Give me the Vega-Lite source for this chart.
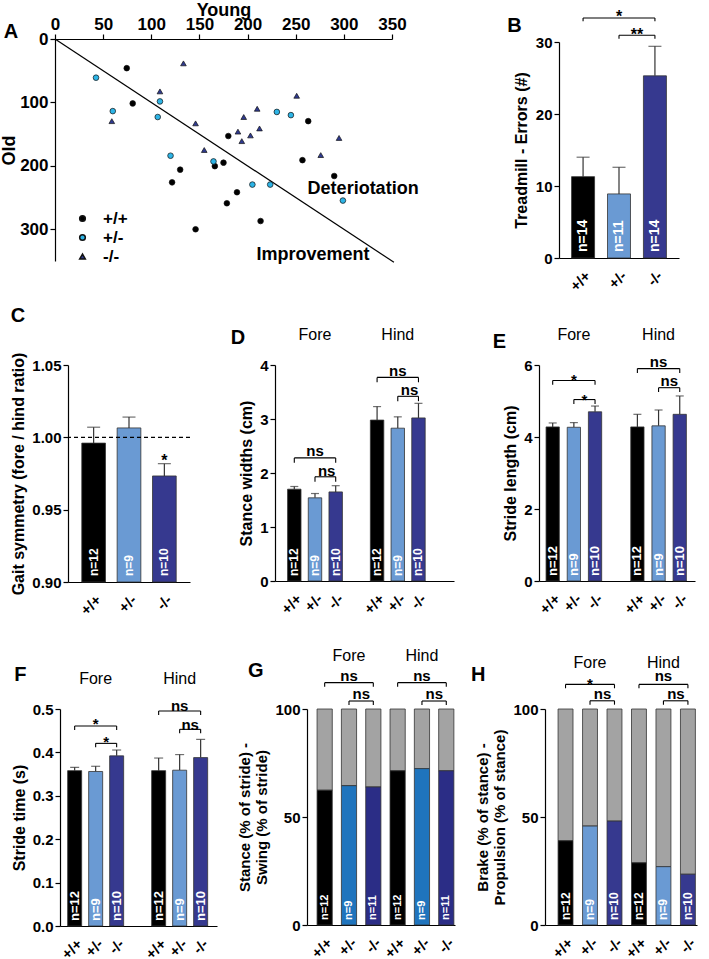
{
"$schema": "https://vega.github.io/schema/vega-lite/v6.json",
"background": "white",
"padding": {"left": 0, "top": 1, "right": 0, "bottom": 0},
"config": {
 "font": "Liberation Sans",
 "view": {"stroke": null},
 "axis": {"labelFont": "Liberation Sans", "titleFont": "Liberation Sans", "labelFontWeight": "bold", "titleFontWeight": "bold", "labelColor": "#000", "titleColor": "#000", "domainColor": "#000", "tickColor": "#000", "domainWidth": 1.2, "tickWidth": 1.2, "grid": false, "labelFontSize": 15, "titleFontSize": 16, "labelPadding": 2, "tickSize": 5, "titlePadding": 5},
 "axisBand": {"labelAngle": -45, "labelAlign": "right", "labelBaseline": "top", "ticks": false, "labelPadding": 10, "labelFontSize": 15, "labelOverlap": false},
 "title": {"font": "Liberation Sans", "fontSize": 20, "fontWeight": "bold", "color": "#000", "anchor": "start", "frame": "bounds", "offset": 0, "baseline": "alphabetic"},
 "text": {"font": "Liberation Sans"}
},
"spacing": 12,
"resolve": {"scale": {"color": "independent", "shape": "independent"}, "legend": {"color": "independent", "shape": "independent"}},
"vconcat": [
 {"hconcat": [
  {
   "width": 337, "height": 222,
   "title": {"text": "A", "dx": 3, "dy": 45},
   "layer": [
    {"data": {"values": [{"young": 0, "old": 0}, {"young": 352, "old": 352}]},
     "mark": {"type": "line", "color": "#000", "strokeWidth": 1.2, "clip": false},
     "encoding": {
      "x": {"field": "young", "type": "quantitative", "scale": {"domain": [0, 350], "nice": false}, "axis": {"orient": "top", "values": [0, 50, 100, 150, 200, 250, 300, 350], "title": "Young", "labelAngle": 0, "labelAlign": "center", "labelFlush": false, "labelOverlap": false, "labelFontSize": 17, "titleFontSize": 18, "titlePadding": -4, "labelPadding": 1, "tickSize": 5}},
      "y": {"field": "old", "type": "quantitative", "scale": {"domain": [0, 350], "nice": false, "reverse": true}, "axis": {"values": [0, 50, 100, 150, 200, 250, 300, 350], "title": "Old", "labelFlush": false, "labelOverlap": false, "labelFontSize": 17, "titleFontSize": 18, "titlePadding": 1}}
     }},
    {"data": {"values": [
      {"g": "+/+", "young": 74.5, "old": 46}, {"g": "+/+", "young": 80.7, "old": 101.6}, {"g": "+/+", "young": 180, "old": 153}, {"g": "+/+", "young": 175, "old": 195}, {"g": "+/+", "young": 166, "old": 200.5}, {"g": "+/+", "young": 130, "old": 206}, {"g": "+/+", "young": 121.6, "old": 226}, {"g": "+/+", "young": 189, "old": 241.6}, {"g": "+/+", "young": 178.5, "old": 259}, {"g": "+/+", "young": 146, "old": 300}, {"g": "+/+", "young": 213.5, "old": 287}, {"g": "+/+", "young": 263, "old": 129.5}, {"g": "+/+", "young": 257, "old": 191}, {"g": "+/+", "young": 290, "old": 216},
      {"g": "+/-", "young": 42.6, "old": 61}, {"g": "+/-", "young": 60, "old": 113.7}, {"g": "+/-", "young": 109, "old": 98.4}, {"g": "+/-", "young": 106.7, "old": 123}, {"g": "+/-", "young": 120, "old": 184}, {"g": "+/-", "young": 164.6, "old": 193}, {"g": "+/-", "young": 205, "old": 229.5}, {"g": "+/-", "young": 223.5, "old": 229.5}, {"g": "+/-", "young": 230.4, "old": 115}, {"g": "+/-", "young": 245, "old": 120}, {"g": "+/-", "young": 299, "old": 254.7},
      {"g": "-/-", "young": 133.4, "old": 38.4}, {"g": "-/-", "young": 109, "old": 82.6}, {"g": "-/-", "young": 59, "old": 129.5}, {"g": "-/-", "young": 146, "old": 133}, {"g": "-/-", "young": 155, "old": 175}, {"g": "-/-", "young": 190, "old": 146}, {"g": "-/-", "young": 194, "old": 161}, {"g": "-/-", "young": 196, "old": 123}, {"g": "-/-", "young": 203, "old": 152}, {"g": "-/-", "young": 210, "old": 110}, {"g": "-/-", "young": 212.4, "old": 141}, {"g": "-/-", "young": 251, "old": 89.5}, {"g": "-/-", "young": 276, "old": 183}, {"g": "-/-", "young": 295, "old": 156}
     ]},
     "mark": {"type": "point", "filled": true, "opacity": 1, "stroke": "#111", "strokeWidth": 0.7, "size": 32},
     "encoding": {
      "x": {"field": "young", "type": "quantitative"},
      "y": {"field": "old", "type": "quantitative"},
      "color": {"field": "g", "type": "nominal", "scale": {"domain": ["+/+", "+/-", "-/-"], "range": ["#000000", "#2DB4E6", "#2F3A8F"]}, "legend": {"title": null, "orient": "none", "legendX": 19, "legendY": 171, "labelFontSize": 17, "labelFontWeight": "bold", "labelFont": "Liberation Sans", "labelColor": "#000", "symbolSize": 32, "rowPadding": 1, "labelOffset": 12}},
      "shape": {"field": "g", "type": "nominal", "scale": {"domain": ["+/+", "+/-", "-/-"], "range": ["circle", "circle", "triangle-up"]}}
     }},
    {"data": {"values": [{"young": 320, "old": 237, "label": "Deteriotation"}, {"young": 268, "old": 341, "label": "Improvement"}]},
     "mark": {"type": "text", "fontWeight": "bold", "fontSize": 18, "align": "center", "baseline": "middle"},
     "encoding": {"x": {"field": "young", "type": "quantitative"}, "y": {"field": "old", "type": "quantitative"}, "text": {"field": "label"}}}
   ]
  },
  {
   "width": 120, "height": 216,
   "title": {"text": "B", "dx": -6, "dy": 31},
   "layer": [
    {"data": {"values": [
      {"g": "+/+", "mean": 11.3, "up": 14.0, "n": "n=14"},
      {"g": "+/-", "mean": 8.9, "up": 12.6, "n": "n=11"},
      {"g": "-/-", "mean": 25.3, "up": 29.4, "n": "n=14"}]},
     "layer": [
      {"mark": {"type": "rule", "color": "#333", "strokeWidth": 1.2},
       "encoding": {
        "x": {"field": "g", "type": "nominal", "scale": {"domain": ["+/+", "+/-", "-/-"], "paddingInner": 0.36, "paddingOuter": 0.35}, "axis": {"title": null}},
        "y": {"field": "mean", "type": "quantitative", "scale": {"domain": [0, 30], "nice": false}, "axis": {"values": [0, 10, 20, 30], "title": "Treadmill - Errors (#)", "titlePadding": 6}},
        "y2": {"field": "up"}}},
      {"mark": {"type": "bar", "stroke": "#333", "strokeWidth": 0.8},
       "encoding": {"x": {"field": "g", "type": "nominal"}, "y": {"field": "mean", "type": "quantitative"}, "y2": {"datum": 0},
        "color": {"field": "g", "type": "nominal", "scale": {"domain": ["+/+", "+/-", "-/-"], "range": ["#000000", "#6A9AD3", "#36398F"]}, "legend": null}}},
      {"mark": {"type": "tick", "color": "#333", "thickness": 1.2, "size": 13},
       "encoding": {"x": {"field": "g", "type": "nominal"}, "y": {"field": "up", "type": "quantitative"}}},
      {"mark": {"type": "text", "angle": 270, "align": "left", "baseline": "middle", "dx": 6, "color": "#fff", "fontWeight": "bold", "fontSize": 14},
       "encoding": {"x": {"field": "g", "type": "nominal"}, "y": {"datum": 0}, "text": {"field": "n"}}}
     ]},
    {"data": {"values": [
      {"x1": "+/+", "x2": "-/-", "xm": "+/-", "y": 33.33, "yb": 32.87, "ty": 33.54, "label": "*", "kind": "wide"},
      {"x1": "+/-", "x2": "-/-", "xm": "-/-", "y": 30.93, "yb": 30.46, "ty": 31.04, "label": "**", "kind": "narrow"}]},
     "layer": [
      {"mark": {"type": "rule", "color": "#000", "strokeWidth": 1.1}, "encoding": {"x": {"field": "x1", "type": "nominal"}, "x2": {"field": "x2"}, "y": {"field": "y", "type": "quantitative"}}},
      {"mark": {"type": "rule", "color": "#000", "strokeWidth": 1.1}, "encoding": {"x": {"field": "x1", "type": "nominal"}, "y": {"field": "y", "type": "quantitative"}, "y2": {"field": "yb"}}},
      {"mark": {"type": "rule", "color": "#000", "strokeWidth": 1.1}, "encoding": {"x": {"field": "x2", "type": "nominal"}, "y": {"field": "y", "type": "quantitative"}, "y2": {"field": "yb"}}},
      {"transform": [{"filter": "datum.kind === 'wide'"}], "mark": {"type": "text", "fontWeight": "bold", "fontSize": 16, "baseline": "middle"}, "encoding": {"x": {"field": "xm", "type": "nominal"}, "y": {"field": "ty", "type": "quantitative"}, "text": {"field": "label"}}},
      {"transform": [{"filter": "datum.kind === 'narrow'"}], "mark": {"type": "text", "fontWeight": "bold", "fontSize": 16, "baseline": "middle", "dx": -18}, "encoding": {"x": {"field": "x2", "type": "nominal"}, "y": {"field": "ty", "type": "quantitative"}, "text": {"field": "label"}}}
     ]}
   ]
  }
 ], "spacing": 167, "bounds": "flush", "center": true,
 "resolve": {"scale": {"color": "independent", "shape": "independent"}, "legend": {"color": "independent", "shape": "independent"}}},
 {"vconcat": [
  {"hconcat": [
   {"width": 13, "height": 1, "data": {"values": [{"s": 1}]}, "mark": {"type": "point", "opacity": 0, "size": 1}},
   {"hconcat": [
   {
    "width": 122, "height": 217,
    "title": {"text": "C", "dx": 0, "dy": -22},
    "layer": [
     {"data": {"values": [
       {"g": "+/+", "mean": 0.996, "up": 1.007, "n": "n=12"},
       {"g": "+/-", "mean": 1.0065, "up": 1.014, "n": "n=9"},
       {"g": "-/-", "mean": 0.9733, "up": 0.9818, "n": "n=10"}]},
      "layer": [
       {"mark": {"type": "rule", "color": "#333", "strokeWidth": 1.2},
        "encoding": {
         "x": {"field": "g", "type": "nominal", "scale": {"domain": ["+/+", "+/-", "-/-"], "paddingInner": 0.33, "paddingOuter": 0.39}, "axis": {"title": null}},
         "y": {"field": "mean", "type": "quantitative", "scale": {"domain": [0.9, 1.05], "nice": false, "zero": false}, "axis": {"values": [0.9, 0.95, 1.0, 1.05], "format": ".2f", "title": "Gait symmetry (fore / hind ratio)"}},
         "y2": {"field": "up"}}},
       {"mark": {"type": "bar", "stroke": "#333", "strokeWidth": 0.8},
        "encoding": {"x": {"field": "g", "type": "nominal"}, "y": {"field": "mean", "type": "quantitative"}, "y2": {"datum": 0.9},
         "color": {"field": "g", "type": "nominal", "scale": {"domain": ["+/+", "+/-", "-/-"], "range": ["#000000", "#6A9AD3", "#36398F"]}, "legend": null}}},
       {"mark": {"type": "tick", "color": "#333", "thickness": 1.2, "size": 13},
        "encoding": {"x": {"field": "g", "type": "nominal"}, "y": {"field": "up", "type": "quantitative"}}},
       {"mark": {"type": "text", "angle": 270, "align": "left", "baseline": "middle", "dx": 6, "color": "#fff", "fontWeight": "bold", "fontSize": 12},
        "encoding": {"x": {"field": "g", "type": "nominal"}, "y": {"datum": 0.9}, "text": {"field": "n"}}}
      ]},
     {"data": {"values": [{"ref": 1.0}]}, "mark": {"type": "rule", "strokeDash": [4, 3], "color": "#000", "strokeWidth": 1.2}, "encoding": {"y": {"field": "ref", "type": "quantitative"}}},
     {"data": {"values": [{"g": "-/-", "ty": 0.9838, "label": "*"}]}, "mark": {"type": "text", "fontWeight": "bold", "fontSize": 16, "baseline": "middle"}, "encoding": {"x": {"field": "g", "type": "nominal"}, "y": {"field": "ty", "type": "quantitative"}, "text": {"field": "label"}}}
    ]
   },
   {
    "width": 179, "height": 216,
    "title": {"text": "D", "dx": -8, "dy": 25},
    "layer": [
     {"data": {"values": [
       {"slot": "F+/+", "g": "+/+", "mean": 1.70, "up": 1.75, "n": "n=12"},
       {"slot": "F+/-", "g": "+/-", "mean": 1.54, "up": 1.62, "n": "n=9"},
       {"slot": "F-/-", "g": "-/-", "mean": 1.65, "up": 1.765, "n": "n=10"},
       {"slot": "H+/+", "g": "+/+", "mean": 2.98, "up": 3.23, "n": "n=12"},
       {"slot": "H+/-", "g": "+/-", "mean": 2.83, "up": 3.04, "n": "n=9"},
       {"slot": "H-/-", "g": "-/-", "mean": 3.02, "up": 3.29, "n": "n=10"}]},
      "layer": [
       {"mark": {"type": "rule", "color": "#333", "strokeWidth": 1.2},
        "encoding": {
         "x": {"field": "slot", "type": "nominal", "scale": {"domain": ["F+/+", "F+/-", "F-/-", "gap", "H+/+", "H+/-", "H-/-"], "paddingInner": 0.351, "paddingOuter": 1.514, "align": 0.304}, "axis": {"title": null, "values": ["F+/+", "F+/-", "F-/-", "H+/+", "H+/-", "H-/-"], "labelExpr": "slice(datum.value, 1)"}},
         "y": {"field": "mean", "type": "quantitative", "scale": {"domain": [0, 4], "nice": false}, "axis": {"values": [0, 1, 2, 3, 4], "format": "d", "title": "Stance widths (cm)"}},
         "y2": {"field": "up"}}},
       {"mark": {"type": "bar", "stroke": "#333", "strokeWidth": 0.8},
        "encoding": {"x": {"field": "slot", "type": "nominal"}, "y": {"field": "mean", "type": "quantitative"}, "y2": {"datum": 0},
         "color": {"field": "g", "type": "nominal", "scale": {"domain": ["+/+", "+/-", "-/-"], "range": ["#000000", "#6A9AD3", "#36398F"]}, "legend": null}}},
       {"mark": {"type": "tick", "color": "#333", "thickness": 1.2, "size": 8},
        "encoding": {"x": {"field": "slot", "type": "nominal"}, "y": {"field": "up", "type": "quantitative"}}},
       {"mark": {"type": "text", "angle": 270, "align": "left", "baseline": "middle", "dx": 5, "color": "#fff", "fontWeight": "bold", "fontSize": 12},
        "encoding": {"x": {"field": "slot", "type": "nominal"}, "y": {"datum": 0}, "text": {"field": "n"}}}
      ]},
     {"data": {"values": [
       {"x1": "F+/+", "x2": "F-/-", "xm": "F+/-", "y": 2.28, "yb": 2.19, "ty": 2.41, "label": "ns", "kind": "wide"},
       {"x1": "F+/-", "x2": "F-/-", "xm": "F-/-", "y": 1.93, "yb": 1.84, "ty": 2.04, "label": "ns", "kind": "narrow"},
       {"x1": "H+/+", "x2": "H-/-", "xm": "H+/-", "y": 3.77, "yb": 3.68, "ty": 3.89, "label": "ns", "kind": "wide"},
       {"x1": "H+/-", "x2": "H-/-", "xm": "H-/-", "y": 3.42, "yb": 3.33, "ty": 3.54, "label": "ns", "kind": "narrow"}]},
      "layer": [
       {"mark": {"type": "rule", "color": "#000", "strokeWidth": 1.1}, "encoding": {"x": {"field": "x1", "type": "nominal"}, "x2": {"field": "x2"}, "y": {"field": "y", "type": "quantitative"}}},
       {"mark": {"type": "rule", "color": "#000", "strokeWidth": 1.1}, "encoding": {"x": {"field": "x1", "type": "nominal"}, "y": {"field": "y", "type": "quantitative"}, "y2": {"field": "yb"}}},
       {"mark": {"type": "rule", "color": "#000", "strokeWidth": 1.1}, "encoding": {"x": {"field": "x2", "type": "nominal"}, "y": {"field": "y", "type": "quantitative"}, "y2": {"field": "yb"}}},
       {"transform": [{"filter": "datum.kind === 'wide'"}], "mark": {"type": "text", "fontWeight": "bold", "fontSize": 15, "baseline": "middle"}, "encoding": {"x": {"field": "xm", "type": "nominal"}, "y": {"field": "ty", "type": "quantitative"}, "text": {"field": "label"}}},
       {"transform": [{"filter": "datum.kind === 'narrow'"}], "mark": {"type": "text", "fontWeight": "bold", "fontSize": 15, "baseline": "middle", "dx": -9}, "encoding": {"x": {"field": "x2", "type": "nominal"}, "y": {"field": "ty", "type": "quantitative"}, "text": {"field": "label"}}}
      ]},
     {"data": {"values": [{"xm": "F+/-", "ty": 4.56, "label": "Fore"}, {"xm": "H+/-", "ty": 4.56, "label": "Hind"}]},
      "mark": {"type": "text", "fontSize": 16, "baseline": "middle"},
      "encoding": {"x": {"field": "xm", "type": "nominal"}, "y": {"field": "ty", "type": "quantitative"}, "text": {"field": "label"}}}
    ]
   },
   {
    "width": 156, "height": 216,
    "title": {"text": "E", "dx": -10, "dy": 29},
    "layer": [
     {"data": {"values": [
       {"slot": "F+/+", "g": "+/+", "mean": 4.28, "up": 4.39, "n": "n=12"},
       {"slot": "F+/-", "g": "+/-", "mean": 4.27, "up": 4.40, "n": "n=9"},
       {"slot": "F-/-", "g": "-/-", "mean": 4.70, "up": 4.86, "n": "n=10"},
       {"slot": "H+/+", "g": "+/+", "mean": 4.28, "up": 4.63, "n": "n=12"},
       {"slot": "H+/-", "g": "+/-", "mean": 4.31, "up": 4.75, "n": "n=9"},
       {"slot": "H-/-", "g": "-/-", "mean": 4.63, "up": 5.14, "n": "n=10"}]},
      "layer": [
       {"mark": {"type": "rule", "color": "#333", "strokeWidth": 1.2},
        "encoding": {
         "x": {"field": "slot", "type": "nominal", "scale": {"domain": ["F+/+", "F+/-", "F-/-", "gap", "H+/+", "H+/-", "H-/-"], "paddingInner": 0.373, "paddingOuter": 0.37, "align": 0.45}, "axis": {"title": null, "values": ["F+/+", "F+/-", "F-/-", "H+/+", "H+/-", "H-/-"], "labelExpr": "slice(datum.value, 1)"}},
         "y": {"field": "mean", "type": "quantitative", "scale": {"domain": [0, 6], "nice": false}, "axis": {"values": [0, 2, 4, 6], "title": "Stride length (cm)"}},
         "y2": {"field": "up"}}},
       {"mark": {"type": "bar", "stroke": "#333", "strokeWidth": 0.8},
        "encoding": {"x": {"field": "slot", "type": "nominal"}, "y": {"field": "mean", "type": "quantitative"}, "y2": {"datum": 0},
         "color": {"field": "g", "type": "nominal", "scale": {"domain": ["+/+", "+/-", "-/-"], "range": ["#000000", "#6A9AD3", "#36398F"]}, "legend": null}}},
       {"mark": {"type": "tick", "color": "#333", "thickness": 1.2, "size": 8},
        "encoding": {"x": {"field": "slot", "type": "nominal"}, "y": {"field": "up", "type": "quantitative"}}},
       {"mark": {"type": "text", "angle": 270, "align": "left", "baseline": "middle", "dx": 5, "color": "#fff", "fontWeight": "bold", "fontSize": 13},
        "encoding": {"x": {"field": "slot", "type": "nominal"}, "y": {"datum": 0}, "text": {"field": "n"}}}
      ]},
     {"data": {"values": [
       {"x1": "F+/+", "x2": "F-/-", "xm": "F+/-", "y": 5.57, "yb": 5.45, "ty": 5.58, "label": "*", "kind": "wide"},
       {"x1": "F+/-", "x2": "F-/-", "xm": "F-/-", "y": 5.04, "yb": 4.92, "ty": 5.04, "label": "*", "kind": "narrow"},
       {"x1": "H+/+", "x2": "H-/-", "xm": "H+/-", "y": 5.90, "yb": 5.78, "ty": 6.08, "label": "ns", "kind": "wide"},
       {"x1": "H+/-", "x2": "H-/-", "xm": "H-/-", "y": 5.37, "yb": 5.25, "ty": 5.55, "label": "ns", "kind": "narrow"}]},
      "layer": [
       {"mark": {"type": "rule", "color": "#000", "strokeWidth": 1.1}, "encoding": {"x": {"field": "x1", "type": "nominal"}, "x2": {"field": "x2"}, "y": {"field": "y", "type": "quantitative"}}},
       {"mark": {"type": "rule", "color": "#000", "strokeWidth": 1.1}, "encoding": {"x": {"field": "x1", "type": "nominal"}, "y": {"field": "y", "type": "quantitative"}, "y2": {"field": "yb"}}},
       {"mark": {"type": "rule", "color": "#000", "strokeWidth": 1.1}, "encoding": {"x": {"field": "x2", "type": "nominal"}, "y": {"field": "y", "type": "quantitative"}, "y2": {"field": "yb"}}},
       {"transform": [{"filter": "datum.kind === 'wide'"}], "mark": {"type": "text", "fontWeight": "bold", "fontSize": 15, "baseline": "middle"}, "encoding": {"x": {"field": "xm", "type": "nominal"}, "y": {"field": "ty", "type": "quantitative"}, "text": {"field": "label"}}},
       {"transform": [{"filter": "datum.kind === 'narrow'"}], "mark": {"type": "text", "fontWeight": "bold", "fontSize": 15, "baseline": "middle", "dx": -10.5}, "encoding": {"x": {"field": "x2", "type": "nominal"}, "y": {"field": "ty", "type": "quantitative"}, "text": {"field": "label"}}}
      ]},
     {"data": {"values": [{"xm": "F+/-", "ty": 6.82, "label": "Fore"}, {"xm": "H+/-", "ty": 6.82, "label": "Hind"}]},
      "mark": {"type": "text", "fontSize": 16, "baseline": "middle"},
      "encoding": {"x": {"field": "xm", "type": "nominal"}, "y": {"field": "ty", "type": "quantitative"}, "text": {"field": "label"}}}
    ]
   }
   ], "spacing": 85, "bounds": "flush",
   "resolve": {"scale": {"color": "independent"}, "legend": {"color": "independent"}}}
  ], "spacing": 0, "bounds": "flush",
  "resolve": {"scale": {"color": "independent"}, "legend": {"color": "independent"}}},
  {"hconcat": [
   {"width": 5, "height": 1, "data": {"values": [{"s": 1}]}, "mark": {"type": "point", "opacity": 0, "size": 1}},
   {"hconcat": [
   {
    "width": 157, "height": 217,
    "title": {"text": "F", "dx": 3, "dy": 18},
    "layer": [
     {"data": {"values": [
       {"slot": "F+/+", "g": "+/+", "mean": 0.358, "up": 0.3655, "n": "n=12"},
       {"slot": "F+/-", "g": "+/-", "mean": 0.356, "up": 0.368, "n": "n=9"},
       {"slot": "F-/-", "g": "-/-", "mean": 0.392, "up": 0.4055, "n": "n=10"},
       {"slot": "H+/+", "g": "+/+", "mean": 0.358, "up": 0.387, "n": "n=12"},
       {"slot": "H+/-", "g": "+/-", "mean": 0.359, "up": 0.395, "n": "n=9"},
       {"slot": "H-/-", "g": "-/-", "mean": 0.388, "up": 0.430, "n": "n=10"}]},
      "layer": [
       {"mark": {"type": "rule", "color": "#333", "strokeWidth": 1.2},
        "encoding": {
         "x": {"field": "slot", "type": "nominal", "scale": {"domain": ["F+/+", "F+/-", "F-/-", "gap", "H+/+", "H+/-", "H-/-"], "paddingInner": 0.333, "paddingOuter": 0.405, "align": 0.45}, "axis": {"title": null, "values": ["F+/+", "F+/-", "F-/-", "H+/+", "H+/-", "H-/-"], "labelExpr": "slice(datum.value, 1)"}},
         "y": {"field": "mean", "type": "quantitative", "scale": {"domain": [0, 0.5], "nice": false}, "axis": {"values": [0, 0.1, 0.2, 0.3, 0.4, 0.5], "format": ".1f", "title": "Stride time (s)"}},
         "y2": {"field": "up"}}},
       {"mark": {"type": "bar", "stroke": "#333", "strokeWidth": 0.8},
        "encoding": {"x": {"field": "slot", "type": "nominal"}, "y": {"field": "mean", "type": "quantitative"}, "y2": {"datum": 0},
         "color": {"field": "g", "type": "nominal", "scale": {"domain": ["+/+", "+/-", "-/-"], "range": ["#000000", "#6A9AD3", "#36398F"]}, "legend": null}}},
       {"mark": {"type": "tick", "color": "#333", "thickness": 1.2, "size": 9},
        "encoding": {"x": {"field": "slot", "type": "nominal"}, "y": {"field": "up", "type": "quantitative"}}},
       {"mark": {"type": "text", "angle": 270, "align": "left", "baseline": "middle", "dx": 5, "color": "#fff", "fontWeight": "bold", "fontSize": 13},
        "encoding": {"x": {"field": "slot", "type": "nominal"}, "y": {"datum": 0}, "text": {"field": "n"}}}
      ]},
     {"data": {"values": [
       {"x1": "F+/+", "x2": "F-/-", "xm": "F+/-", "y": 0.4608, "yb": 0.4515, "ty": 0.4654, "label": "*", "kind": "wide"},
       {"x1": "F+/-", "x2": "F-/-", "xm": "F-/-", "y": 0.4208, "yb": 0.4116, "ty": 0.4232, "label": "*", "kind": "narrow"},
       {"x1": "H+/+", "x2": "H-/-", "xm": "H+/-", "y": 0.4954, "yb": 0.4862, "ty": 0.5074, "label": "ns", "kind": "wide"},
       {"x1": "H+/-", "x2": "H-/-", "xm": "H-/-", "y": 0.4531, "yb": 0.4439, "ty": 0.4626, "label": "ns", "kind": "narrow"}]},
      "layer": [
       {"mark": {"type": "rule", "color": "#000", "strokeWidth": 1.1}, "encoding": {"x": {"field": "x1", "type": "nominal"}, "x2": {"field": "x2"}, "y": {"field": "y", "type": "quantitative"}}},
       {"mark": {"type": "rule", "color": "#000", "strokeWidth": 1.1}, "encoding": {"x": {"field": "x1", "type": "nominal"}, "y": {"field": "y", "type": "quantitative"}, "y2": {"field": "yb"}}},
       {"mark": {"type": "rule", "color": "#000", "strokeWidth": 1.1}, "encoding": {"x": {"field": "x2", "type": "nominal"}, "y": {"field": "y", "type": "quantitative"}, "y2": {"field": "yb"}}},
       {"transform": [{"filter": "datum.kind === 'wide'"}], "mark": {"type": "text", "fontWeight": "bold", "fontSize": 15, "baseline": "middle"}, "encoding": {"x": {"field": "xm", "type": "nominal"}, "y": {"field": "ty", "type": "quantitative"}, "text": {"field": "label"}}},
       {"transform": [{"filter": "datum.kind === 'narrow'"}], "mark": {"type": "text", "fontWeight": "bold", "fontSize": 15, "baseline": "middle", "dx": -10.5}, "encoding": {"x": {"field": "x2", "type": "nominal"}, "y": {"field": "ty", "type": "quantitative"}, "text": {"field": "label"}}}
      ]},
     {"data": {"values": [{"xm": "F+/-", "ty": 0.5697, "label": "Fore"}, {"xm": "H+/-", "ty": 0.5697, "label": "Hind"}]},
      "mark": {"type": "text", "fontSize": 16, "baseline": "middle"},
      "encoding": {"x": {"field": "xm", "type": "nominal"}, "y": {"field": "ty", "type": "quantitative"}, "text": {"field": "label"}}}
    ]
   },
   {
    "width": 148, "height": 216,
    "title": {"text": "G", "dx": 10, "dy": 37},
    "layer": [
     {"data": {"values": [
       {"slot": "F+/+", "g": "+/+", "v": 62.4, "n": "n=12"},
       {"slot": "F+/-", "g": "+/-", "v": 64.5, "n": "n=9"},
       {"slot": "F-/-", "g": "-/-", "v": 63.9, "n": "n=11"},
       {"slot": "H+/+", "g": "+/+", "v": 71.4, "n": "n=12"},
       {"slot": "H+/-", "g": "+/-", "v": 72.4, "n": "n=9"},
       {"slot": "H-/-", "g": "-/-", "v": 71.4, "n": "n=11"}]},
      "layer": [
       {"mark": {"type": "bar", "color": "#A3A3A3", "stroke": "#333", "strokeWidth": 0.8},
        "encoding": {
         "x": {"field": "slot", "type": "nominal", "scale": {"domain": ["F+/+", "F+/-", "F-/-", "H+/+", "H+/-", "H-/-"], "paddingInner": 0.375, "paddingOuter": 0.23, "align": 0.9}, "axis": {"title": null, "labelExpr": "slice(datum.value, 1)"}},
         "y": {"field": "v", "type": "quantitative", "scale": {"domain": [0, 100], "nice": false}, "axis": {"values": [0, 50, 100], "title": ["Stance (% of stride) -", "Swing (% of stride)"], "titleFontSize": 15, "titleLineHeight": 17}},
         "y2": {"datum": 100}}},
       {"mark": {"type": "bar", "stroke": "#333", "strokeWidth": 0.8},
        "encoding": {"x": {"field": "slot", "type": "nominal"}, "y": {"field": "v", "type": "quantitative"}, "y2": {"datum": 0},
         "color": {"field": "g", "type": "nominal", "scale": {"domain": ["+/+", "+/-", "-/-"], "range": ["#000000", "#1F74BD", "#2B2D86"]}, "legend": null}}},
       {"mark": {"type": "text", "angle": 270, "align": "left", "baseline": "middle", "dx": 5, "color": "#fff", "fontWeight": "bold", "fontSize": 11},
        "encoding": {"x": {"field": "slot", "type": "nominal"}, "y": {"datum": 0}, "text": {"field": "n"}}}
      ]},
     {"data": {"values": [
       {"x1": "F+/+", "x2": "F-/-", "xm": "F+/-", "y": 112.2, "yb": 110.3, "ty": 115.5, "label": "ns", "kind": "wide"},
       {"x1": "F+/-", "x2": "F-/-", "xm": "F-/-", "y": 103.7, "yb": 101.9, "ty": 107.0, "label": "ns", "kind": "narrow"},
       {"x1": "H+/+", "x2": "H-/-", "xm": "H+/-", "y": 112.2, "yb": 110.3, "ty": 115.5, "label": "ns", "kind": "wide"},
       {"x1": "H+/-", "x2": "H-/-", "xm": "H-/-", "y": 103.7, "yb": 101.9, "ty": 107.0, "label": "ns", "kind": "narrow"}]},
      "layer": [
       {"mark": {"type": "rule", "color": "#000", "strokeWidth": 1.1}, "encoding": {"x": {"field": "x1", "type": "nominal"}, "x2": {"field": "x2"}, "y": {"field": "y", "type": "quantitative"}}},
       {"mark": {"type": "rule", "color": "#000", "strokeWidth": 1.1}, "encoding": {"x": {"field": "x1", "type": "nominal"}, "y": {"field": "y", "type": "quantitative"}, "y2": {"field": "yb"}}},
       {"mark": {"type": "rule", "color": "#000", "strokeWidth": 1.1}, "encoding": {"x": {"field": "x2", "type": "nominal"}, "y": {"field": "y", "type": "quantitative"}, "y2": {"field": "yb"}}},
       {"transform": [{"filter": "datum.kind === 'wide'"}], "mark": {"type": "text", "fontWeight": "bold", "fontSize": 15, "baseline": "middle"}, "encoding": {"x": {"field": "xm", "type": "nominal"}, "y": {"field": "ty", "type": "quantitative"}, "text": {"field": "label"}}},
       {"transform": [{"filter": "datum.kind === 'narrow'"}], "mark": {"type": "text", "fontWeight": "bold", "fontSize": 15, "baseline": "middle", "dx": -12}, "encoding": {"x": {"field": "x2", "type": "nominal"}, "y": {"field": "ty", "type": "quantitative"}, "text": {"field": "label"}}}
      ]},
     {"data": {"values": [{"xm": "F+/-", "ty": 124.4, "label": "Fore"}, {"xm": "H+/-", "ty": 124.4, "label": "Hind"}]},
      "mark": {"type": "text", "fontSize": 16, "baseline": "middle"},
      "encoding": {"x": {"field": "xm", "type": "nominal"}, "y": {"field": "ty", "type": "quantitative"}, "text": {"field": "label"}}}
    ]
   },
   {
    "width": 152, "height": 216,
    "title": {"text": "H", "dx": -5, "dy": 34},
    "layer": [
     {"data": {"values": [
       {"slot": "F+/+", "g": "+/+", "v": 39.0, "n": "n=12"},
       {"slot": "F+/-", "g": "+/-", "v": 45.8, "n": "n=9"},
       {"slot": "F-/-", "g": "-/-", "v": 48.1, "n": "n=10"},
       {"slot": "H+/+", "g": "+/+", "v": 28.8, "n": "n=12"},
       {"slot": "H+/-", "g": "+/-", "v": 27.0, "n": "n=9"},
       {"slot": "H-/-", "g": "-/-", "v": 23.5, "n": "n=10"}]},
      "layer": [
       {"mark": {"type": "bar", "color": "#A3A3A3", "stroke": "#333", "strokeWidth": 0.8},
        "encoding": {
         "x": {"field": "slot", "type": "nominal", "scale": {"domain": ["F+/+", "F+/-", "F-/-", "H+/+", "H+/-", "H-/-"], "paddingInner": 0.39, "paddingOuter": 0.3, "align": 0.89}, "axis": {"title": null, "labelExpr": "slice(datum.value, 1)"}},
         "y": {"field": "v", "type": "quantitative", "scale": {"domain": [0, 100], "nice": false}, "axis": {"values": [0, 50, 100], "title": ["Brake (% of stance) -", "Propulsion (% of stance)"], "titleFontSize": 15, "titleLineHeight": 17}},
         "y2": {"datum": 100}}},
       {"mark": {"type": "bar", "stroke": "#333", "strokeWidth": 0.8},
        "encoding": {"x": {"field": "slot", "type": "nominal"}, "y": {"field": "v", "type": "quantitative"}, "y2": {"datum": 0},
         "color": {"field": "g", "type": "nominal", "scale": {"domain": ["+/+", "+/-", "-/-"], "range": ["#000000", "#6A9AD3", "#36398F"]}, "legend": null}}},
       {"mark": {"type": "text", "angle": 270, "align": "left", "baseline": "middle", "dx": 5, "color": "#fff", "fontWeight": "bold", "fontSize": 12},
        "encoding": {"x": {"field": "slot", "type": "nominal"}, "y": {"datum": 0}, "text": {"field": "n"}}}
      ]},
     {"data": {"values": [
       {"x1": "F+/+", "x2": "F-/-", "xm": "F+/-", "y": 111.4, "yb": 109.6, "ty": 111.8, "label": "*", "kind": "wide"},
       {"x1": "F+/-", "x2": "F-/-", "xm": "F-/-", "y": 103.8, "yb": 102.0, "ty": 107.1, "label": "ns", "kind": "narrow"},
       {"x1": "H+/+", "x2": "H-/-", "xm": "H+/-", "y": 111.4, "yb": 109.6, "ty": 115.4, "label": "ns", "kind": "wide"},
       {"x1": "H+/-", "x2": "H-/-", "xm": "H-/-", "y": 103.8, "yb": 102.0, "ty": 107.1, "label": "ns", "kind": "narrow"}]},
      "layer": [
       {"mark": {"type": "rule", "color": "#000", "strokeWidth": 1.1}, "encoding": {"x": {"field": "x1", "type": "nominal"}, "x2": {"field": "x2"}, "y": {"field": "y", "type": "quantitative"}}},
       {"mark": {"type": "rule", "color": "#000", "strokeWidth": 1.1}, "encoding": {"x": {"field": "x1", "type": "nominal"}, "y": {"field": "y", "type": "quantitative"}, "y2": {"field": "yb"}}},
       {"mark": {"type": "rule", "color": "#000", "strokeWidth": 1.1}, "encoding": {"x": {"field": "x2", "type": "nominal"}, "y": {"field": "y", "type": "quantitative"}, "y2": {"field": "yb"}}},
       {"transform": [{"filter": "datum.kind === 'wide'"}], "mark": {"type": "text", "fontWeight": "bold", "fontSize": 15, "baseline": "middle"}, "encoding": {"x": {"field": "xm", "type": "nominal"}, "y": {"field": "ty", "type": "quantitative"}, "text": {"field": "label"}}},
       {"transform": [{"filter": "datum.kind === 'narrow'"}], "mark": {"type": "text", "fontWeight": "bold", "fontSize": 15, "baseline": "middle", "dx": -12}, "encoding": {"x": {"field": "x2", "type": "nominal"}, "y": {"field": "ty", "type": "quantitative"}, "text": {"field": "label"}}}
      ]},
     {"data": {"values": [{"xm": "F+/-", "ty": 121.1, "label": "Fore"}, {"xm": "H+/-", "ty": 121.1, "label": "Hind"}]},
      "mark": {"type": "text", "fontSize": 16, "baseline": "middle"},
      "encoding": {"x": {"field": "xm", "type": "nominal"}, "y": {"field": "ty", "type": "quantitative"}, "text": {"field": "label"}}}
    ]
   }
   ], "spacing": 90, "bounds": "flush",
   "resolve": {"scale": {"color": "independent"}, "legend": {"color": "independent"}}}
  ], "spacing": 0, "bounds": "flush",
  "resolve": {"scale": {"color": "independent"}, "legend": {"color": "independent"}}}
 ], "spacing": 30,
 "resolve": {"scale": {"color": "independent"}, "legend": {"color": "independent"}}}
]
}
